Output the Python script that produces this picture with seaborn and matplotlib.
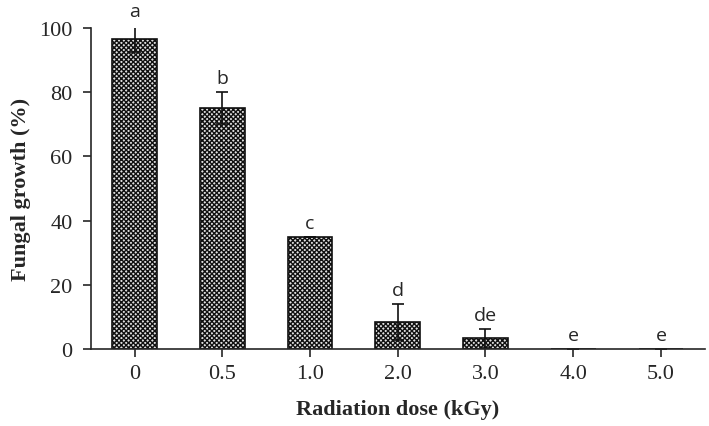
import numpy as np
import pandas as pd
import matplotlib
matplotlib.use('Agg')
import matplotlib.pyplot as plt
import seaborn as sns

# 数据
doses = ['0', '0.5', '1.0', '2.0', '3.0', '4.0', '5.0']
growth = [96.7, 75.0, 35.0, 8.4, 3.4, 0.0, 0.0]
errors = [4.2, 5.0, 0.0, 5.7, 2.9, 0.0, 0.0]
letters = ['a', 'b', 'c', 'd', 'de', 'e', 'e']

df = pd.DataFrame({'dose': doses, 'growth': growth})

sns.set_style('ticks')
plt.rcParams['font.family'] = ['Liberation Serif', 'DejaVu Serif']
plt.rcParams['hatch.linewidth'] = 1.0

fig = plt.figure(figsize=(7.09, 4.27), dpi=100)
ax = fig.add_axes([0.128, 0.180, 0.866, 0.752])

sns.barplot(data=df, x='dose', y='growth', color='#e0e0e0', width=0.51,
            edgecolor='#111111', linewidth=1.2, errorbar=None, ax=ax)

# 棋盘格填充
for p in ax.patches:
    p.set_hatch('xxxxxxx')

centers = [p.get_x() + p.get_width() / 2 for p in ax.patches]
ax.errorbar(centers, growth, yerr=errors, fmt='none', ecolor='#111111',
            elinewidth=1.2, capsize=4, capthick=1.2)

# 显著性字母
for xc, v, e, lab in zip(centers, growth, errors, letters):
    ax.text(xc, v + e + 1.5, lab, ha='center', va='bottom', fontsize=14,
            family=['Open Sans', 'DejaVu Sans'], clip_on=False)

ax.set_ylim(0, 100)
ax.set_yticks([0, 20, 40, 60, 80, 100])
ax.set_xlim(-0.5, len(doses) - 0.5)

ax.tick_params(axis='x', length=6, width=1.2, pad=5, labelsize=16)
ax.tick_params(axis='y', length=6, width=1.2, pad=7, labelsize=16)

for s in ['top', 'right']:
    ax.spines[s].set_visible(False)
for s in ['left', 'bottom']:
    ax.spines[s].set_linewidth(1.2)

ax.set_xlabel('Radiation dose (kGy)', fontsize=16, fontweight='bold', labelpad=11)
ax.set_ylabel('Fungal growth (%)', fontsize=16, fontweight='bold', labelpad=6)

plt.savefig('out.png', dpi=100)
plt.close()
